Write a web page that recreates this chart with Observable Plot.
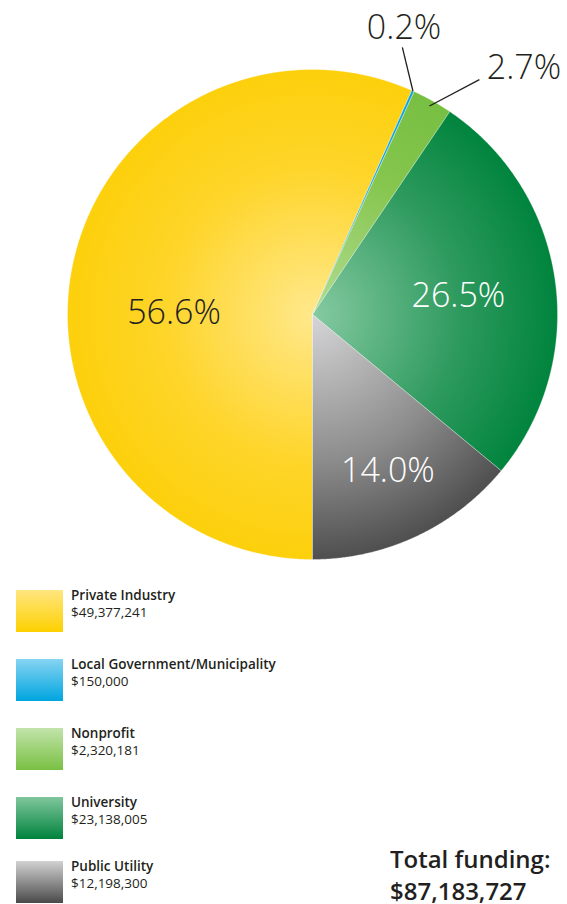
<!DOCTYPE html>
<html>
<head>
<meta charset="utf-8">
<script src="https://cdn.jsdelivr.net/npm/d3@7"></script>
<script src="https://cdn.jsdelivr.net/npm/@observablehq/plot@0.6"></script>
<style>
  html, body { margin: 0; padding: 0; background: #fff; }
  #wrap { position: relative; width: 567px; height: 904px; overflow: hidden; font-family: "Open Sans", sans-serif; color: #231f20; }
  #chart { position: absolute; left: 0; top: 0; }
  .item { position: absolute; left: 16px; height: 42px; }
  .sw { position: absolute; left: 0; top: 0; width: 47px; height: 42px; }
  .lab { position: absolute; left: 55px; top: -3px; white-space: nowrap; font-size: 13.5px; line-height: 17px; }
  .lab b { font-weight: 600; }
  #total { position: absolute; left: 390px; top: 843px; font-weight: 600; font-size: 24px; line-height: 32px; white-space: nowrap; }
</style>
</head>
<body>
<div id="wrap">
  <div id="chart"></div>
  <div id="legend"></div>
  <div id="total"></div>
</div>
<script>
const categories = ["Private Industry", "Local Government/Municipality", "Nonprofit", "University", "Public Utility"];
const amounts = [49377241, 150000, 2320181, 23138005, 12198300];
const percentLabels = ["56.6%", "0.2%", "2.7%", "26.5%", "14.0%"];
const amountLabels = ["$49,377,241", "$150,000", "$2,320,181", "$23,138,005", "$12,198,300"];
const totalTitle = "Total funding:";
const totalLabel = "$87,183,727";

// styling (not data)
const pieGrad = [
  ["#ffe88c", "#fed52a", "#fdd00c"],
  ["#2ab3e6", "#16a8e0", "#0aa3de"],
  ["#b3dc94", "#86c64e", "#77bf42"],
  ["#86caa2", "#2e9a5e", "#00843d"],
  ["#d6d6d8", "#8c8c8c", "#4f4f4f"]
];
const legGrad = [
  ["#ffe680", "#fdd000"],
  ["#86d4f2", "#00a5e0"],
  ["#c2e4aa", "#79c043"],
  ["#80c69d", "#00833d"],
  ["#d2d2d2", "#4a4a4a"]
];
const labelLayout = [
  {r: 0.565, off: -11.5, color: "#231f20"},
  {r: 1.229, off: -6.5, color: "#231f20", leader: [1.15, -5.6, 1.0, 0]},
  {r: 1.326, off: 11.3, color: "#231f20", leader: [1.176, 6.1, 0.976, 0]},
  {r: 0.60, off: 1, color: "#ffffff"},
  {r: 0.71, off: -0.5, color: "#ffffff"}
];

const arcs = d3.pie().sort(null).startAngle(Math.PI).endAngle(3 * Math.PI)(amounts);
const deg = Math.PI / 180;
const pt = (r, a) => ({x: r * Math.sin(a), y: r * Math.cos(a)});

const marks = [];
arcs.forEach((a, i) => {
  const pts = [{x: 0, y: 0}];
  const n = Math.max(2, Math.ceil((a.endAngle - a.startAngle) / 0.005));
  for (let k = 0; k <= n; k++) pts.push(pt(1, a.startAngle + (a.endAngle - a.startAngle) * k / n));
  pts.push({x: 0, y: 0});
  marks.push(Plot.line(pts, {x: "x", y: "y", fill: `url(#pg${i})`, stroke: "#ffffff", strokeWidth: 0.5, strokeOpacity: 0.6, curve: "linear"}));
});

const labels = arcs.map((a, i) => {
  const L = labelLayout[i];
  const mid = (a.startAngle + a.endAngle) / 2;
  return {...pt(L.r, mid + L.off * deg), text: percentLabels[i], color: L.color};
});
const leaders = [];
arcs.forEach((a, i) => {
  const L = labelLayout[i];
  if (!L.leader) return;
  const mid = (a.startAngle + a.endAngle) / 2;
  const p1 = pt(L.leader[0], mid + L.leader[1] * deg);
  const p2 = pt(L.leader[2], mid + L.leader[3] * deg);
  leaders.push({x1: p1.x, y1: p1.y, x2: p2.x, y2: p2.y});
});
marks.push(Plot.link(leaders, {x1: "x1", y1: "y1", x2: "x2", y2: "y2", stroke: "#231f20", strokeWidth: 1.3}));
marks.push(Plot.text(labels, {x: "x", y: "y", text: "text", fill: "color", fontSize: 34, fontWeight: 300, fontFamily: "Open Sans", textAnchor: "middle", lineAnchor: "middle"}));

const plot = Plot.plot({
  width: 567,
  height: 575,
  margin: 0,
  x: {domain: [-1, 1], range: [67, 557], axis: null},
  y: {domain: [-1, 1], range: [559, 69], axis: null},
  style: {background: "transparent", overflow: "visible"},
  marks
});

// gradients
const cx = plot.scale("x").apply(0), cy = plot.scale("y").apply(0);
const R = plot.scale("x").apply(1) - cx;
const svgNS = "http://www.w3.org/2000/svg";
const defs = document.createElementNS(svgNS, "defs");
pieGrad.forEach((g, i) => {
  const rg = document.createElementNS(svgNS, "radialGradient");
  rg.setAttribute("id", `pg${i}`);
  rg.setAttribute("gradientUnits", "userSpaceOnUse");
  rg.setAttribute("cx", cx); rg.setAttribute("cy", cy); rg.setAttribute("r", R);
  [[0, g[0]], [0.6, g[1]], [1, g[2]]].forEach(([o, c]) => {
    const s = document.createElementNS(svgNS, "stop");
    s.setAttribute("offset", o); s.setAttribute("stop-color", c);
    rg.appendChild(s);
  });
  defs.appendChild(rg);
});
plot.insertBefore(defs, plot.firstChild);
document.getElementById("chart").appendChild(plot);

// legend
const tops = [590, 659, 728, 797, 861];
const leg = document.getElementById("legend");
categories.forEach((c, i) => {
  const it = document.createElement("div");
  it.className = "item";
  it.style.top = tops[i] + "px";
  it.innerHTML = `<div class="sw" style="background: linear-gradient(to bottom, ${legGrad[i][0]}, ${legGrad[i][1]});"></div>
    <div class="lab"><b>${c}</b><br>${amountLabels[i]}</div>`;
  leg.appendChild(it);
});
document.getElementById("total").innerHTML = `${totalTitle}<br>${totalLabel}`;
</script>
</body>
</html>
